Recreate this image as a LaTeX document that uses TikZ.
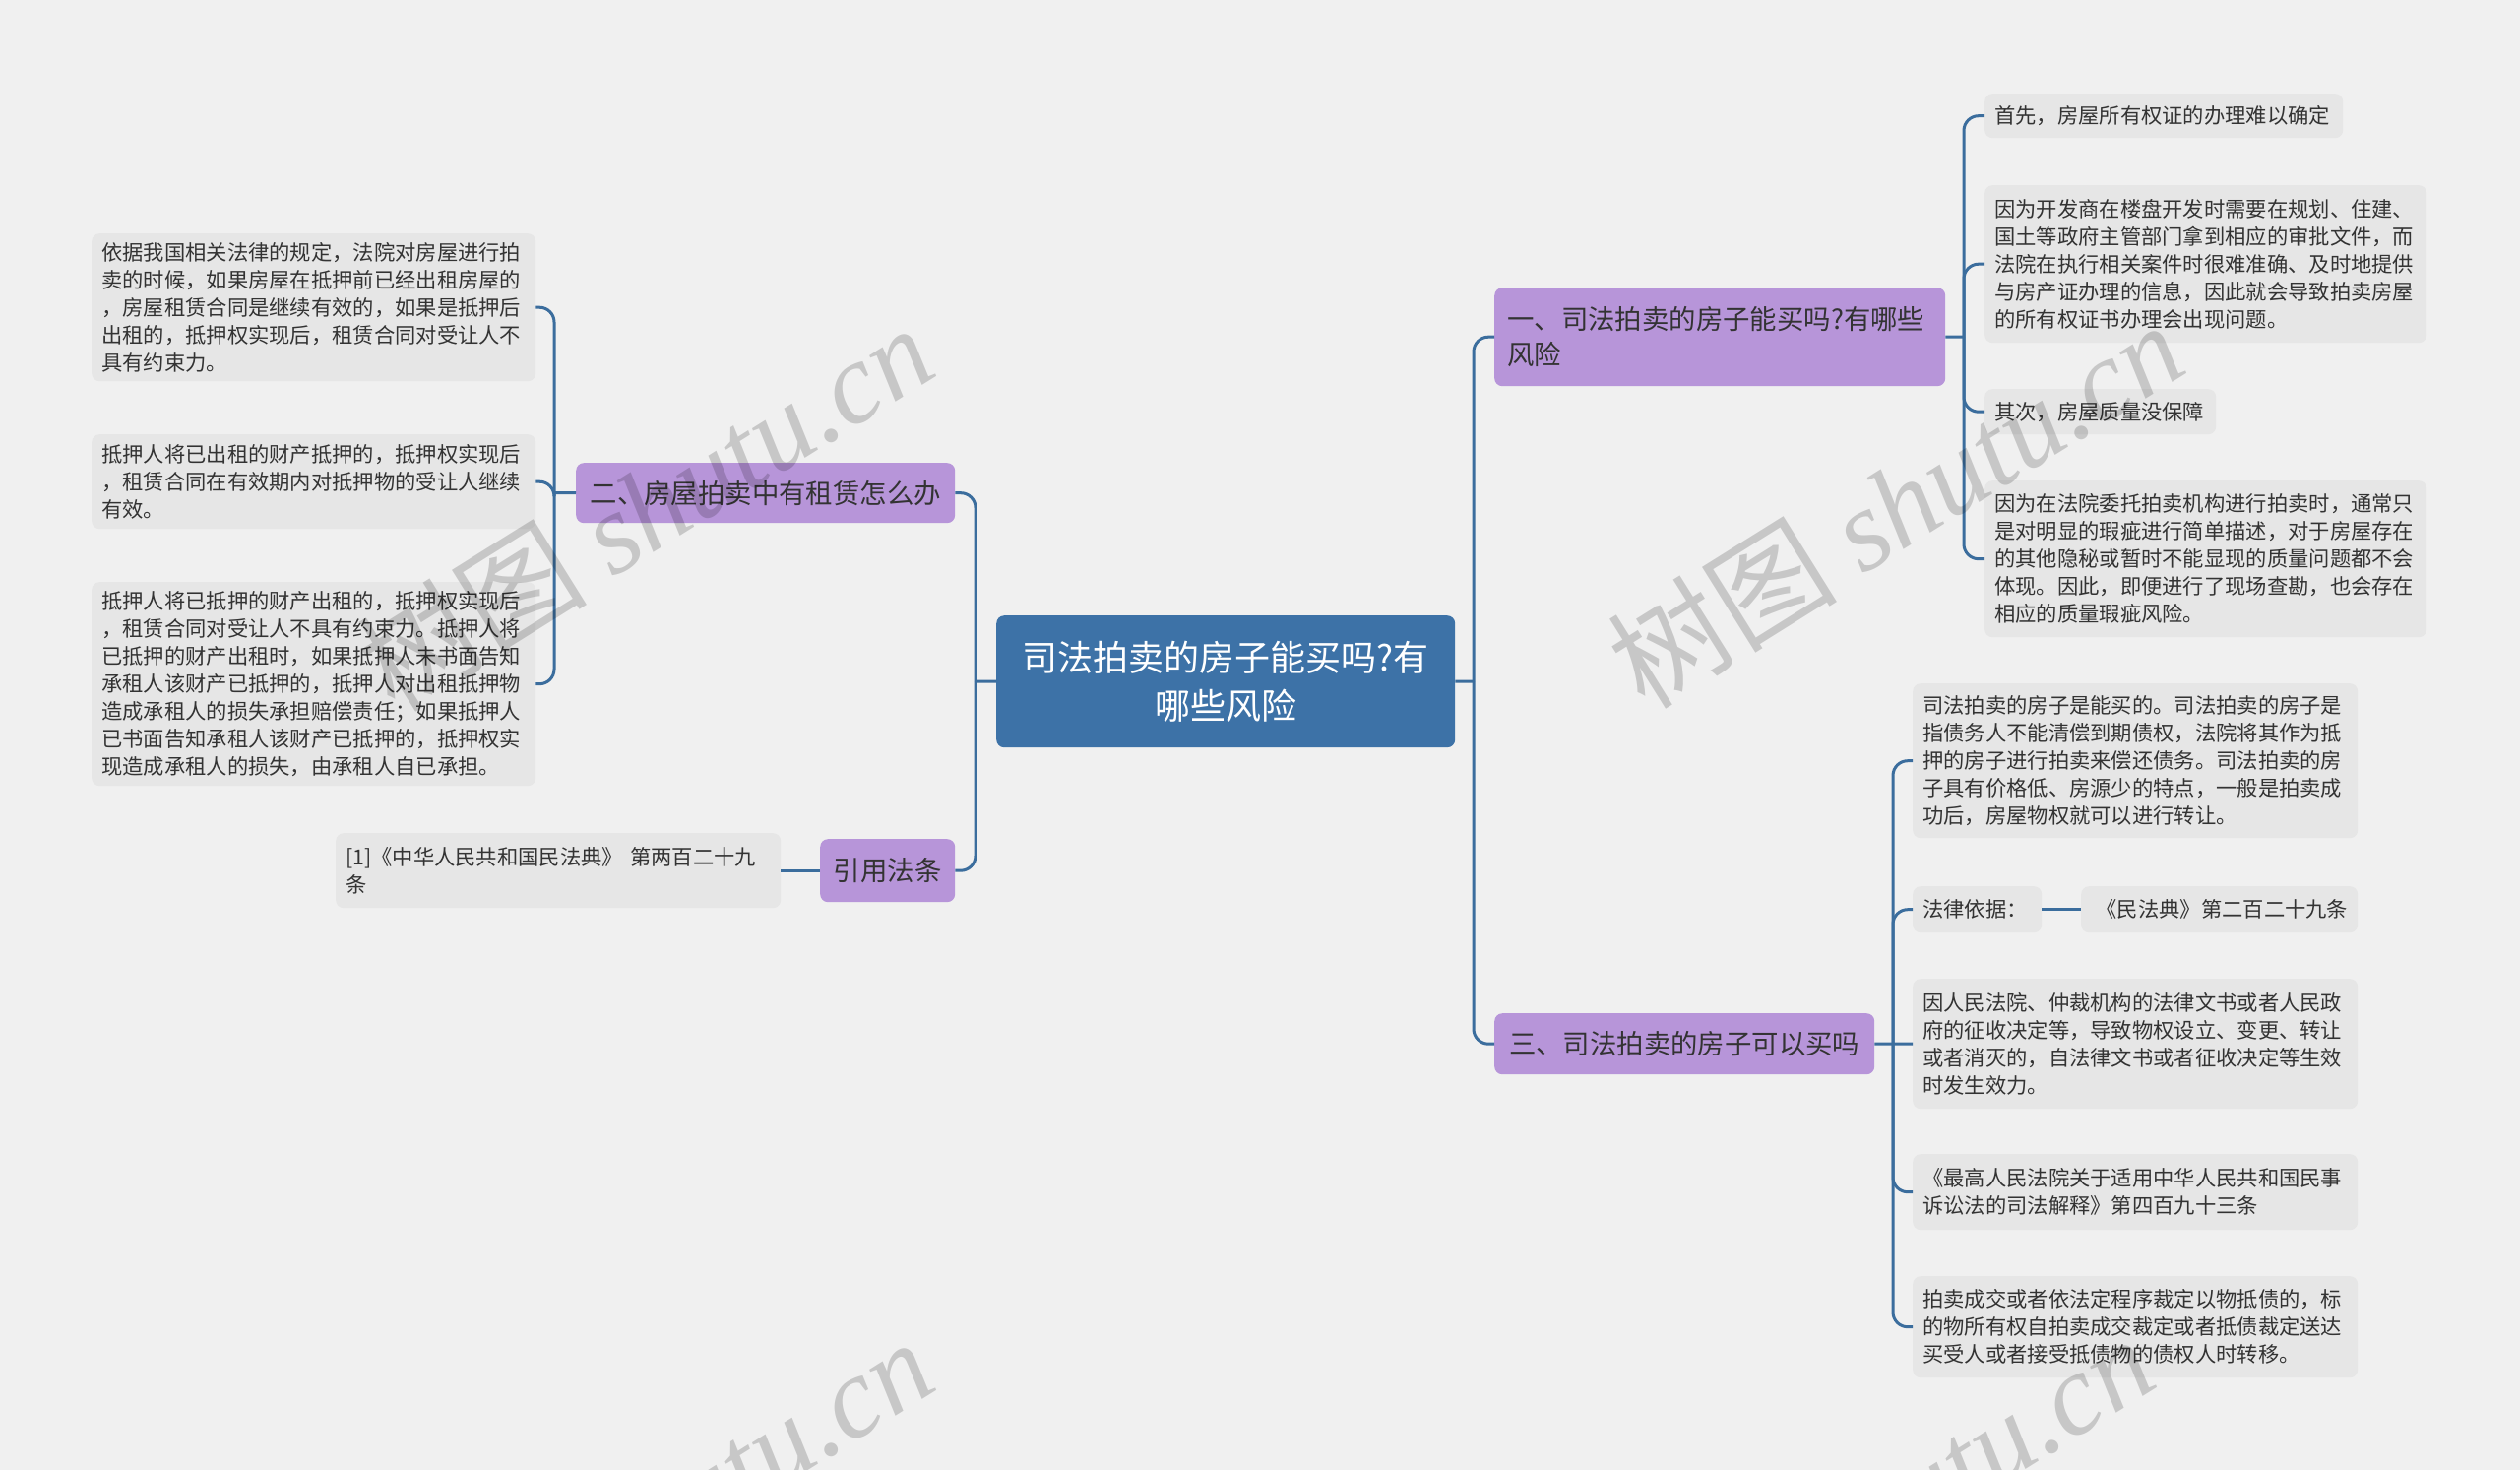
\documentclass[tikz,border=0pt]{standalone}
\usepackage{fontspec}
\setmainfont{Noto Sans CJK SC}
\newfontfamily\wmlat{Liberation Serif}
\definecolor{bgcol}{HTML}{F0F0F0}
\definecolor{leafcol}{HTML}{E6E6E6}
\definecolor{purp}{HTML}{B795D9}
\definecolor{cblue}{HTML}{3D72A7}
\definecolor{linecol}{HTML}{3B6D9D}
\definecolor{txt}{HTML}{333333}
\tikzset{
  leaf/.style={fill=leafcol, rounded corners=8pt, inner xsep=10pt, inner ysep=4pt,
    anchor=north west, align=left, text=txt, font=\fontsize{21.3}{28}\selectfont},
  branch/.style={fill=purp, rounded corners=8pt, inner xsep=13pt, inner ysep=4pt,
    anchor=north west, align=left, text=txt, font=\fontsize{27.4}{36}\selectfont},
  central/.style={fill=cblue, rounded corners=8pt, inner xsep=10pt, inner ysep=4pt,
    anchor=north west, align=center, text=white, font=\fontsize{36}{49}\selectfont},
  conn/.style={draw=linecol, line width=3pt, rounded corners=15pt},
  wm/.style={text=black, text opacity=0.17, rotate=32, inner sep=0pt,
    font=\fontsize{117}{122}\selectfont}
}
\begin{document}
\begin{tikzpicture}[x=1pt,y=-1pt]
\fill[bgcol] (0,0) rectangle (2560,1493);
\useasboundingbox (0,0) rectangle (2560,1493);

% central
\node[central, text width=446pt, minimum height=134pt] (C) at (1012,625)
  {司法拍卖的房子能买吗?有\\哪些风险};

% branches
\node[branch, text width=432pt, minimum height=100pt] (B1) at (1518,292)
  {一、司法拍卖的房子能买吗?有哪些\\风险};
\node[branch, minimum width=385pt, minimum height=61pt, align=center] (B2) at (585,470)
  {二、房屋拍卖中有租赁怎么办};
\node[branch, minimum width=137pt, minimum height=64pt, align=center] (B3) at (833,852)
  {引用法条};
\node[branch, minimum width=386pt, minimum height=62pt, align=center] (B4) at (1518,1029)
  {三、司法拍卖的房子可以买吗};

% left leaves
\node[leaf, text width=431pt, minimum height=150pt] (L1) at (93,237)
  {依据我国相关法律的规定，法院对房屋进行拍\\卖的时候，如果房屋在抵押前已经出租房屋的\\，房屋租赁合同是继续有效的，如果是抵押后\\出租的，抵押权实现后，租赁合同对受让人不\\具有约束力。};
\node[leaf, text width=431pt, minimum height=96pt] (L2) at (93,441)
  {抵押人将已出租的财产抵押的，抵押权实现后\\，租赁合同在有效期内对抵押物的受让人继续\\有效。};
\node[leaf, text width=431pt, minimum height=207pt] (L3) at (93,591)
  {抵押人将已抵押的财产出租的，抵押权实现后\\，租赁合同对受让人不具有约束力。抵押人将\\已抵押的财产出租时，如果抵押人未书面告知\\承租人该财产已抵押的，抵押人对出租抵押物\\造成承租人的损失承担赔偿责任；如果抵押人\\已书面告知承租人该财产已抵押的，抵押权实\\现造成承租人的损失，由承租人自已承担。};
\node[leaf, text width=432pt, minimum height=76pt] (Cite) at (341,846)
  {[1]《中华人民共和国民法典》~第两百二十九\\条};

% right leaves of B1
\node[leaf, text width=344pt, minimum height=45pt] (R1) at (2016,95)
  {首先，房屋所有权证的办理难以确定};
\node[leaf, text width=429pt, minimum height=160pt] (R2) at (2016,188)
  {因为开发商在楼盘开发时需要在规划、住建、\\国土等政府主管部门拿到相应的审批文件，而\\法院在执行相关案件时很难准确、及时地提供\\与房产证办理的信息，因此就会导致拍卖房屋\\的所有权证书办理会出现问题。};
\node[leaf, text width=215pt, minimum height=46pt] (R3) at (2016,395)
  {其次，房屋质量没保障};
\node[leaf, text width=429pt, minimum height=159pt] (R4) at (2016,488)
  {因为在法院委托拍卖机构进行拍卖时，通常只\\是对明显的瑕疵进行简单描述，对于房屋存在\\的其他隐秘或暂时不能显现的质量问题都不会\\体现。因此，即便进行了现场查勘，也会存在\\相应的质量瑕疵风险。};

% right leaves of B4
\node[leaf, text width=432pt, minimum height=157pt] (S1) at (1943,694)
  {司法拍卖的房子是能买的。司法拍卖的房子是\\指债务人不能清偿到期债权，法院将其作为抵\\押的房子进行拍卖来偿还债务。司法拍卖的房\\子具有价格低、房源少的特点，一般是拍卖成\\功后，房屋物权就可以进行转让。};
\node[leaf, text width=111pt, minimum height=47pt] (S2a) at (1943,900)
  {法律依据：};
\node[leaf, text width=261pt, minimum height=47pt, align=right] (S2b) at (2114,900)
  {《民法典》第二百二十九条};
\node[leaf, text width=432pt, minimum height=132pt] (S3) at (1943,994)
  {因人民法院、仲裁机构的法律文书或者人民政\\府的征收决定等，导致物权设立、变更、转让\\或者消灭的，自法律文书或者征收决定等生效\\时发生效力。};
\node[leaf, text width=432pt, minimum height=77pt] (S4) at (1943,1172)
  {《最高人民法院关于适用中华人民共和国民事\\诉讼法的司法解释》第四百九十三条};
\node[leaf, text width=432pt, minimum height=103pt] (S5) at (1943,1296)
  {拍卖成交或者依法定程序裁定以物抵债的，标\\的物所有权自拍卖成交裁定或者抵债裁定送达\\买受人或者接受抵债物的债权人时转移。};

% trunk coordinates
\coordinate (cr) at (1497,692);
\coordinate (cl) at (991,692);
\coordinate (t1) at (1995,342);
\coordinate (t2) at (563,500.5);
\coordinate (t4) at (1923,1060);

% connectors
\draw[conn] (C.east) -- (cr);
\draw[conn] (cr) |- (B1.west);
\draw[conn] (cr) |- (B4.west);
\draw[conn] (C.west) -- (cl);
\draw[conn] (cl) |- (B2.east);
\draw[conn] (cl) |- (B3.east);

\draw[conn] (B2.west) -- (t2);
\draw[conn] (t2) |- (L1.east);
\draw[conn] (t2) |- (L2.east);
\draw[conn] (t2) |- (L3.east);
\draw[conn] (B3.west) -- (Cite.east);

\draw[conn] (B1.east) -- (t1);
\draw[conn] (t1) |- (R1.west);
\draw[conn] (t1) |- (R2.west);
\draw[conn] (t1) |- (R3.west);
\draw[conn] (t1) |- (R4.west);

\draw[conn] (B4.east) -- (t4);
\draw[conn] (t4) |- (S1.west);
\draw[conn] (t4) |- (S2a.west);
\draw[conn] (t4) -- (S3.west);
\draw[conn] (t4) |- (S4.west);
\draw[conn] (t4) |- (S5.west);
\draw[conn] (S2a.east) -- (S2b.west);

% watermarks
\node[wm] (wm1) at (655,515) {树图 {\wmlat\itshape shutu.cn}};
\node[wm] (wm2) at (1925,512) {树图 {\wmlat\itshape shutu.cn}};
\node[wm] (wm3) at (655,1545) {树图 {\wmlat\itshape shutu.cn}};
\node[wm] (wm4) at (1895,1542) {树图 {\wmlat\itshape shutu.cn}};
\end{tikzpicture}
\end{document}
